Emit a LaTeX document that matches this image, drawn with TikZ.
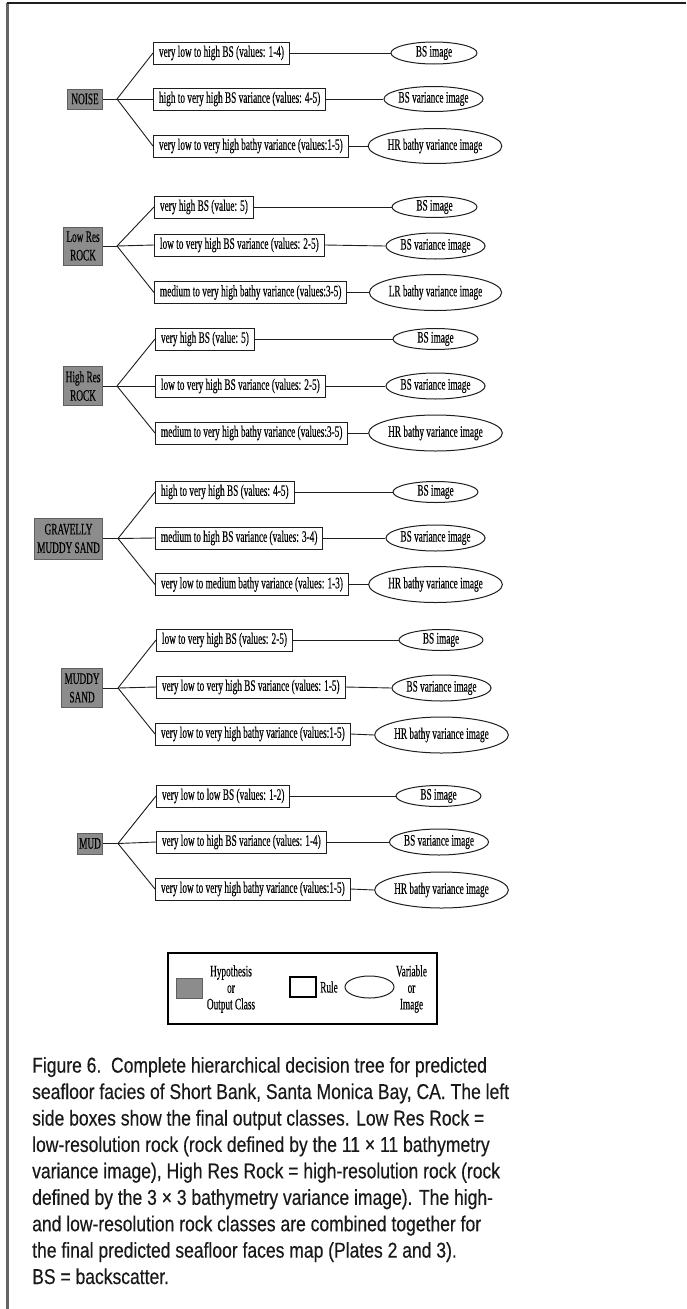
\documentclass[tikz,border=0pt]{standalone}
\usepackage{fontspec}
\usetikzlibrary{shapes.geometric,calc}
\newfontfamily\mydfam[FakeStretch=0.58,FakeBold=0.25]{Liberation Serif}
\newfontfamily\mycfam[FakeStretch=0.815,FakeBold=0.35]{Liberation Sans}
\newcommand\myd{\mydfam\fontsize{16}{16.5}\selectfont}
\newcommand\mydcls{\mydfam\fontsize{16}{18.5}\selectfont}
\newcommand\myc{\mycfam\fontsize{21.5}{26.4}\selectfont}
\definecolor{clsfill}{RGB}{140,140,140}
\definecolor{clsline}{RGB}{95,95,95}
\definecolor{frameleft}{RGB}{100,100,100}
\definecolor{lineblk}{RGB}{30,30,30}
\tikzset{
  cls/.style={draw=clsline, fill=clsfill, line width=0.9pt, font=\mydcls, align=center, inner sep=0pt, anchor=east},
  rulebox/.style={draw=lineblk, line width=1pt, font=\myd, inner xsep=5.5pt, inner ysep=0pt, minimum height=22pt, anchor=west},
  var/.style={ellipse, draw=lineblk, line width=1pt, font=\myd, inner sep=0pt},
  conn/.style={draw=lineblk, line width=0.9pt},
  captxt/.style={font=\myc, text=black!90, anchor=base west, inner sep=0pt},
  legtxt/.style={font=\myd, align=center, inner sep=0pt}
}
\begin{document}
\begin{tikzpicture}[x=1pt,y=-1pt]
\useasboundingbox (0,0) rectangle (686,1309);
% frame
\draw[line width=2.2pt, frameleft] (7.5,2.5) -- (7.5,1309);
\draw[line width=2pt, lineblk] (6.5,3) -- (686,3);

% ---------- group 1: NOISE
\node[cls, minimum width=35pt, minimum height=20pt] (c1) at (103,99) {NOISE};
\coordinate (b1) at (117,99);
\node[rulebox] (r11) at (153,53) {very low to high BS (values: 1-4)};
\node[rulebox] (r12) at (153,99) {high to very high BS variance (values: 4-5)};
\node[rulebox] (r13) at (153,146) {very low to very high bathy variance (values:1-5)};
\node[var, minimum width=86pt, minimum height=22pt] (e11) at (434,53) {BS image};
\node[var, minimum width=91pt, minimum height=25pt] (e12) at (433.5,99) {BS variance image};
\node[var, minimum width=114pt, minimum height=35pt] (e13) at (435,146) {HR bathy variance image};

% ---------- group 2: Low Res ROCK
\node[cls, minimum width=39pt, minimum height=38pt] (c2) at (103,246) {Low Res\\ROCK};
\coordinate (b2) at (117,246);
\node[rulebox] (r21) at (154,207) {very high BS (value: 5)};
\node[rulebox] (r22) at (154,245) {low to very high BS variance (values: 2-5)};
\node[rulebox] (r23) at (154,292.5) {medium to very high bathy variance (values:3-5)};
\node[var, minimum width=85pt, minimum height=21pt] (e21) at (434.5,207) {BS image};
\node[var, minimum width=89pt, minimum height=26pt] (e22) at (435.5,246) {BS variance image};
\node[var, minimum width=115pt, minimum height=36pt] (e23) at (435.5,292.5) {LR bathy variance image};

% ---------- group 3: High Res ROCK
\node[cls, minimum width=39pt, minimum height=39pt] (c3) at (103,386) {High Res\\ROCK};
\coordinate (b3) at (117,386);
\node[rulebox] (r31) at (155,339) {very high BS (value: 5)};
\node[rulebox] (r32) at (155,386) {low to very high BS variance (values: 2-5)};
\node[rulebox] (r33) at (155,433) {medium to very high bathy variance (values:3-5)};
\node[var, minimum width=85pt, minimum height=21pt] (e31) at (435.5,339) {BS image};
\node[var, minimum width=89pt, minimum height=26pt] (e32) at (435.5,386) {BS variance image};
\node[var, minimum width=115pt, minimum height=36pt] (e33) at (435.5,433) {HR bathy variance image};

% ---------- group 4: GRAVELLY MUDDY SAND
\node[cls, minimum width=68pt, minimum height=41pt] (c4) at (103,538.5) {GRAVELLY\\MUDDY SAND};
\coordinate (b4) at (118,538.5);
\node[rulebox] (r41) at (155,492) {high to very high BS (values: 4-5)};
\node[rulebox] (r42) at (155,538) {medium to high BS variance (values: 3-4)};
\node[rulebox] (r43) at (155,584.5) {very low to medium bathy variance (values: 1-3)};
\node[var, minimum width=85pt, minimum height=21pt] (e41) at (435.5,492) {BS image};
\node[var, minimum width=89pt, minimum height=26pt] (e42) at (435.5,538) {BS variance image};
\node[var, minimum width=115pt, minimum height=36pt] (e43) at (435.5,584.5) {HR bathy variance image};

% ---------- group 5: MUDDY SAND
\node[cls, minimum width=41pt, minimum height=39pt] (c5) at (103,688) {MUDDY\\SAND};
\coordinate (b5) at (118,688);
\node[rulebox] (r51) at (156,640) {low to very high BS (values: 2-5)};
\node[rulebox] (r52) at (156,687) {very low to very high BS variance (values: 1-5)};
\node[rulebox] (r53) at (155,734) {very low to very high bathy variance (values:1-5)};
\node[var, minimum width=84pt, minimum height=21pt] (e51) at (441,640) {BS image};
\node[var, minimum width=91pt, minimum height=26pt] (e52) at (441.5,688) {BS variance image};
\node[var, minimum width=117pt, minimum height=36pt] (e53) at (441.5,735) {HR bathy variance image};

% ---------- group 6: MUD
\node[cls, minimum width=25pt, minimum height=21pt] (c6) at (103,843.5) {MUD};
\coordinate (b6) at (118,843.5);
\node[rulebox] (r61) at (156,796) {very low to low BS (values: 1-2)};
\node[rulebox] (r62) at (156,842) {very low to high BS variance (values: 1-4)};
\node[rulebox] (r63) at (155,889) {very low to very high bathy variance (values:1-5)};
\node[var, minimum width=85pt, minimum height=21pt] (e61) at (438.5,796) {BS image};
\node[var, minimum width=88pt, minimum height=26pt] (e62) at (439,842) {BS variance image};
\node[var, minimum width=117pt, minimum height=36pt] (e63) at (441.5,890) {HR bathy variance image};

% connectors
\foreach \g in {1,...,6}{
  \draw[conn] (c\g.east) -- (b\g);
  \foreach \k in {1,2,3}{
    \draw[conn] (b\g) -- (r\g\k.west);
    \draw[conn] (r\g\k.east) -- (e\g\k.west);
  }
}

% ---------- legend
\node[draw=black, line width=1.6pt, minimum width=269pt, minimum height=71pt, inner sep=0pt, anchor=north west] (leg) at (167,952) {};
\node[cls, anchor=center, minimum width=26pt, minimum height=20pt] (lcls) at (189,988) {};
\node[draw=black, line width=1.5pt, minimum width=26pt, minimum height=20pt, inner sep=0pt] (lrule) at (303,987) {};
\node[var, minimum width=49pt, minimum height=22pt] (lvar) at (369.5,987) {};
\node[legtxt] (lt1) at (231,989) {\fontsize{16}{18.5}\selectfont Hypothesis\\or\\Output Class};
\node[legtxt] (lt2) at (329,987) {Rule};
\node[legtxt] (lt3) at (411.5,989) {\fontsize{16}{18.5}\selectfont Variable\\or\\Image};

% ---------- caption
\node[captxt] (cap1) at (32,1072.6) {Figure 6.\ \ Complete hierarchical decision tree for predicted};
\node[captxt] (cap2) at (32,1099.0) {seafloor facies of Short Bank, Santa Monica Bay, CA. The left};
\node[captxt] (cap3) at (32,1125.5) {side boxes show the final output classes. Low Res Rock =};
\node[captxt] (cap4) at (32,1151.9) {low-resolution rock (rock defined by the 11 × 11 bathymetry};
\node[captxt] (cap5) at (32,1178.3) {variance image), High Res Rock = high-resolution rock (rock};
\node[captxt] (cap6) at (32,1204.8) {defined by the 3 × 3 bathymetry variance image). The high-};
\node[captxt] (cap7) at (32,1231.2) {and low-resolution rock classes are combined together for};
\node[captxt] (cap8) at (32,1257.6) {the final predicted seafloor faces map (Plates 2 and 3).};
\node[captxt] (cap9) at (32,1284.0) {BS = backscatter.};
\end{tikzpicture}
\end{document}
